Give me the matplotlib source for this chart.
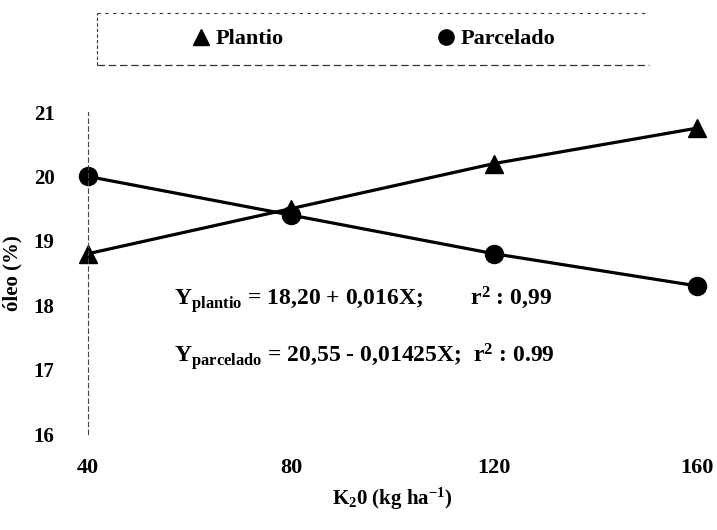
import matplotlib
matplotlib.use("Agg")
import matplotlib.pyplot as plt
from matplotlib.lines import Line2D
from matplotlib.font_manager import FontProperties

plt.rcParams['font.family'] = ['Liberation Serif', 'DejaVu Serif']
plt.rcParams['font.weight'] = 'bold'
plt.rcParams['axes.labelweight'] = 'bold'
plt.rcParams['mathtext.fontset'] = 'custom'
plt.rcParams['mathtext.rm'] = 'Liberation Serif:bold'
plt.rcParams['mathtext.it'] = 'Liberation Serif:bold'
plt.rcParams['mathtext.bf'] = 'Liberation Serif:bold'
plt.rcParams['mathtext.default'] = 'rm'

# dados (K2O kg/ha vs oleo %)
doses = [40, 80, 120, 160]
plantio = [18.8, 19.5, 20.2, 20.75]
parcelado = [20.0, 19.4, 18.8, 18.3]
x_ticks = [40, 80, 120, 160]
y_ticks = [16, 17, 18, 19, 20, 21]

fig = plt.figure(figsize=(7.17, 5.30), dpi=100)
ax = fig.add_axes([0.1227, 0.1811, 0.8494, 0.6075])

ax.plot(doses, plantio, color='black', lw=2.3, marker='^', ms=13,
        clip_on=False, label='Plantio')
ax.plot(doses, parcelado, color='black', lw=2.3, marker='o', ms=13,
        clip_on=False, label='Parcelado')

ax.set_xlim(40, 160)
ax.set_ylim(16, 21)
ax.set_xticks(x_ticks)
ax.set_yticks(y_ticks)
ax.tick_params(length=0)
ax.tick_params(axis='x', labelsize=16, pad=17)
ax.tick_params(axis='y', labelsize=15, pad=24)

for s in ['top', 'right', 'bottom']:
    ax.spines[s].set_visible(False)
ax.spines['left'].set_linestyle((0, (4, 3)))
ax.spines['left'].set_linewidth(0.8)
ax.spines['left'].set_color('#444444')

ax.set_ylabel('óleo (%)', fontsize=15, labelpad=8)
ax.set_xlabel(r'K$_2$0 (kg ha$^{-1}$)', fontsize=15, labelpad=6)

ax.text(0.141, 0.40, r'Y$_{\mathrm{plantio}}$ = 18,20 + 0,016X;        r$^2$ : 0,99',
        transform=ax.transAxes, fontsize=17)
ax.text(0.141, 0.222, r'Y$_{\mathrm{parcelado}}$ = 20,55 - 0,01425X;  r$^2$ : 0.99',
        transform=ax.transAxes, fontsize=17)

leg = fig.legend(loc='center', bbox_to_anchor=(0.52, 0.926), ncol=2,
                 frameon=False,
                 prop=FontProperties(family='Liberation Serif', weight='bold', size=16),
                 handlelength=1.0, handletextpad=0.15, columnspacing=6.8)
for h in leg.legend_handles:
    h.set_linestyle('none')
    h.set_markersize(11)

# moldura tracejada da legenda
fig.add_artist(Line2D([0.135, 0.905], [0.975, 0.975], color='#333333',
                      lw=0.8, ls=(0, (3, 4))))
fig.add_artist(Line2D([0.135, 0.905], [0.877, 0.877], color='#333333',
                      lw=0.9, ls=(0, (6, 3))))
fig.add_artist(Line2D([0.135, 0.135], [0.877, 0.975], color='#333333',
                      lw=0.8, ls=(0, (3, 2))))

fig.savefig('out.png', dpi=100)
